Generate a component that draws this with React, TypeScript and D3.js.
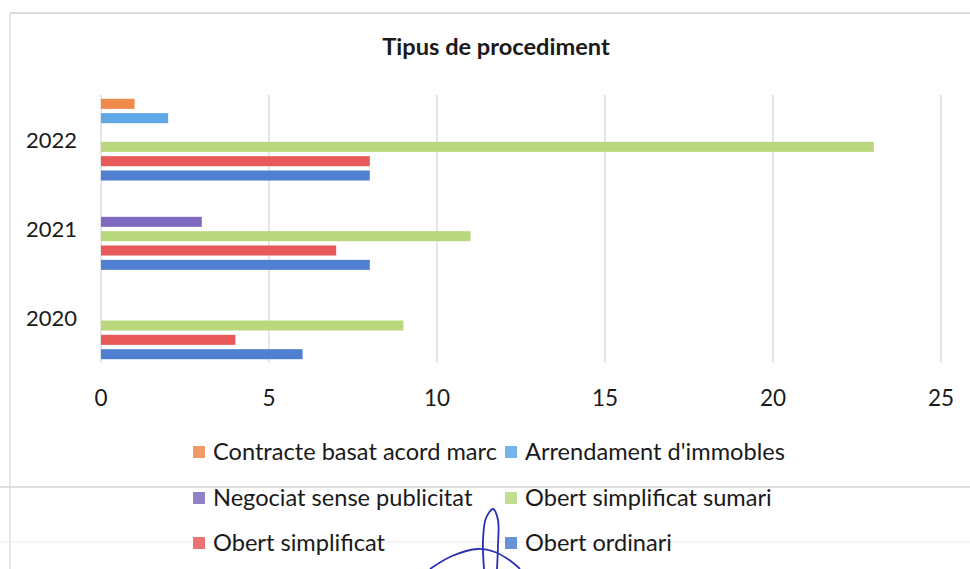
import React from "react";
import * as d3 from "d3";

const years = ["2022", "2021", "2020"];
const seriesNames = [
  "Contracte basat acord marc",
  "Arrendament d'immobles",
  "Negociat sense publicitat",
  "Obert simplificat sumari",
  "Obert simplificat",
  "Obert ordinari",
];
// values in the order of `years` (2022, 2021, 2020)
const contracteAcordMarc = [1, 0, 0];
const arrendamentImmobles = [2, 0, 0];
const negociatSensePublicitat = [0, 3, 0];
const obertSimplificatSumari = [23, 11, 9];
const obertSimplificat = [8, 7, 4];
const obertOrdinari = [8, 8, 6];
const seriesValues = [
  contracteAcordMarc,
  arrendamentImmobles,
  negociatSensePublicitat,
  obertSimplificatSumari,
  obertSimplificat,
  obertOrdinari,
];
const seriesColors = ["#F08A4B", "#5EA8E6", "#7E6BC0", "#B9D87E", "#E8595A", "#5080D0"];
const xTicks = [0, 5, 10, 15, 20, 25];
const title = "Tipus de procediment";

const FONT = "Lato, 'Open Sans', sans-serif";

export default function App() {
  const W = 970;
  const H = 569;
  const x = d3.scaleLinear().domain([0, 25]).range([101, 941]);
  const y = d3.scaleBand<string>().domain(years).range([95, 363]).paddingInner(0.085).paddingOuter(0.0425);
  const inner = d3
    .scaleBand<string>()
    .domain(seriesNames)
    .range([0, y.bandwidth()])
    .paddingInner(0.3);

  const legendCols = [193, 505];
  const legendRows = [452, 498, 543];

  const scribble = d3.line().curve(d3.curveCatmullRom)([
    [484, 569],
    [483, 540],
    [486, 518],
    [493, 509],
    [498, 520],
    [498, 545],
    [497, 569],
  ]);
  const scribble2 = d3.line().curve(d3.curveCatmullRom)([
    [430, 569],
    [452, 556],
    [478, 549],
    [495, 552],
    [512, 562],
    [520, 569],
  ]);

  return (
    <svg
      width={W}
      height={H}
      style={{ position: "absolute", left: 0, top: 0, background: "#fff" }}
      fontFamily={FONT}
    >
      <rect x={0} y={0} width={W} height={H} fill="#fff" />
      {/* scan borders */}
      <line x1={10} x2={970} y1={13} y2={13} stroke="#cfcfcf" strokeWidth={1.5} />
      <line x1={10} x2={10} y1={13} y2={569} stroke="#d8d8d8" strokeWidth={1.2} />
      <line x1={0} x2={970} y1={487} y2={487} stroke="#d4d4d4" strokeWidth={1.5} />
      <line x1={0} x2={970} y1={542} y2={542} stroke="#ececec" strokeWidth={1} />

      <text x={496} y={55} textAnchor="middle" fontWeight="bold" fontSize={23.6} fill="#1a1a1a">
        {title}
      </text>

      {/* gridlines */}
      {xTicks.map((t) => (
        <line key={t} x1={x(t)} x2={x(t)} y1={95} y2={363} stroke="#d6d6d6" strokeWidth={1.2} />
      ))}

      {/* bars */}
      {years.map((yr, yi) => (
        <g key={yr} transform={`translate(0,${y(yr)})`}>
          {seriesNames.map((s, si) => {
            const v = seriesValues[si][yi];
            if (!v) return null;
            return (
              <rect
                key={s}
                x={x(0)}
                y={inner(s)}
                width={x(v) - x(0)}
                height={inner.bandwidth()}
                fill={seriesColors[si]}
              />
            );
          })}
        </g>
      ))}

      {/* y labels */}
      {years.map((yr) => (
        <text
          key={yr}
          x={77}
          y={(y(yr) as number) + y.bandwidth() / 2 + 8}
          textAnchor="end"
          fontSize={22}
          fill="#1a1a1a"
        >
          {yr}
        </text>
      ))}

      {/* x tick labels */}
      {xTicks.map((t) => (
        <text key={t} x={x(t)} y={406} textAnchor="middle" fontSize={22.5} fill="#1a1a1a">
          {t}
        </text>
      ))}

      {/* legend */}
      {seriesNames.map((s, i) => {
        const cx = legendCols[i % 2];
        const cy = legendRows[Math.floor(i / 2)];
        return (
          <g key={s}>
            <rect x={cx} y={cy - 6} width={12} height={12} fill={seriesColors[i]} opacity={0.85} />
            <text x={cx + 20} y={cy + 8} fontSize={23.6} fill="#1a1a1a">
              {s}
            </text>
          </g>
        );
      })}

      {/* pen scribble */}
      <path d={scribble ?? ""} fill="none" stroke="#2a2fb0" strokeWidth={1.8} />
      <path d={scribble2 ?? ""} fill="none" stroke="#2a2fb0" strokeWidth={1.8} />
    </svg>
  );
}
